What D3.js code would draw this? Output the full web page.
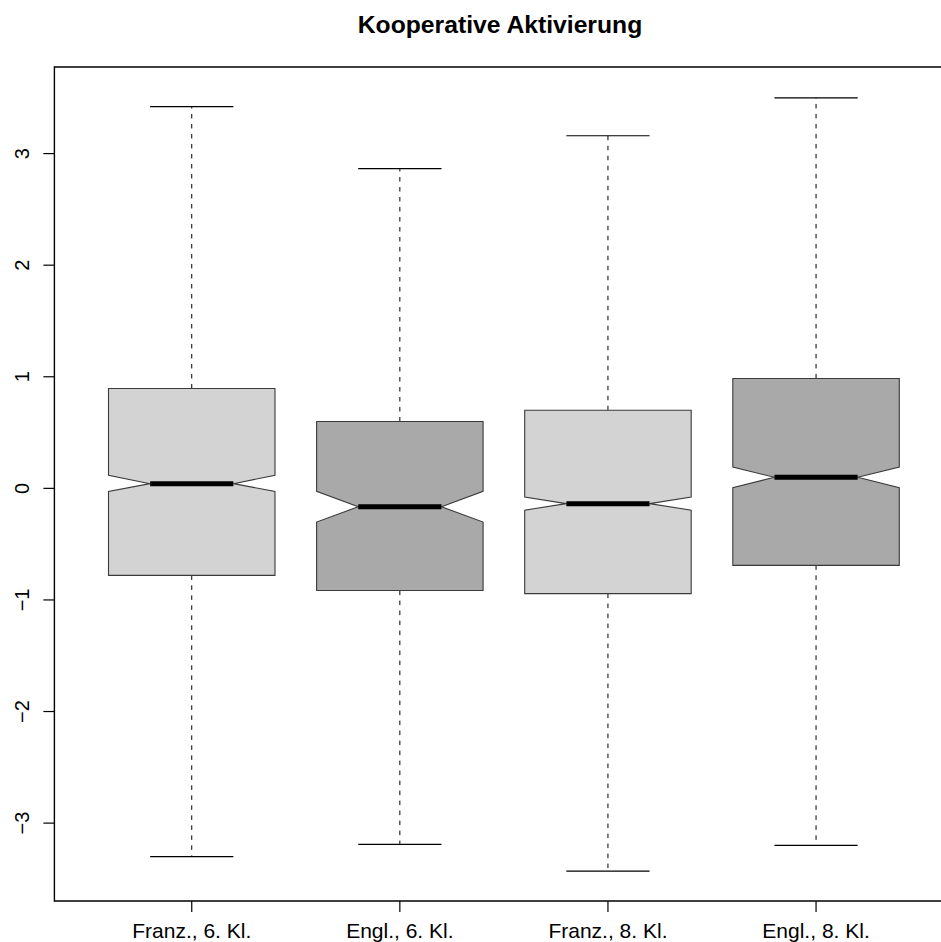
<!DOCTYPE html>
<html><head><meta charset="utf-8">
<script src="https://cdn.jsdelivr.net/npm/d3@7"></script>
<style>body{margin:0;background:#fff;overflow:hidden}svg{display:block}</style>
</head><body>
<script>
const categories = ["Franz., 6. Kl.", "Engl., 6. Kl.", "Franz., 8. Kl.", "Engl., 8. Kl."];
const whiskerLow  = [-3.30, -3.19, -3.43, -3.20];
const q1          = [-0.78, -0.916, -0.943, -0.69];
const medians     = [0.042, -0.165, -0.137, 0.099];
const q3          = [0.895, 0.599, 0.70, 0.985];
const whiskerHigh = [3.42, 2.865, 3.16, 3.50];
const notchLow    = [-0.027, -0.302, -0.195, 0.006];
const notchHigh   = [0.117, -0.026, -0.078, 0.191];
const fills       = ["#D3D3D3", "#A9A9A9", "#D3D3D3", "#A9A9A9"];
const yTicks      = [-3, -2, -1, 0, 1, 2, 3];
const title       = "Kooperative Aktivierung";

const W = 941, H = 942;
const svg = d3.select("body").append("svg").attr("width", W).attr("height", H);

const x = d3.scaleLinear().domain([0.34, 4.66]).range([54.4, 953.4]);
const y = d3.scaleLinear().domain([-3.698, 3.776]).range([901, 67]);
const boxHalf = (x(1.4) - x(1));
const notchHalf = boxHalf / 2;

const data = categories.map((c, i) => ({
  c, i, lo: whiskerLow[i], q1: q1[i], med: medians[i], q3: q3[i], hi: whiskerHigh[i],
  nl: notchLow[i], nh: notchHigh[i], fill: fills[i]
}));

const g = svg.append("g");

g.selectAll(".wu").data(data).join("line")
  .attr("x1", d => x(d.i + 1)).attr("x2", d => x(d.i + 1))
  .attr("y1", d => y(d.q3)).attr("y2", d => y(d.hi))
  .attr("stroke", "#000").attr("stroke-width", 1).attr("stroke-dasharray", "4.5,5.5");
g.selectAll(".wl").data(data).join("line")
  .attr("x1", d => x(d.i + 1)).attr("x2", d => x(d.i + 1))
  .attr("y1", d => y(d.q1)).attr("y2", d => y(d.lo))
  .attr("stroke", "#000").attr("stroke-width", 1).attr("stroke-dasharray", "4.5,5.5");
["hi", "lo"].forEach(k => {
  g.selectAll(".st" + k).data(data).join("line")
    .attr("x1", d => x(d.i + 1) - notchHalf).attr("x2", d => x(d.i + 1) + notchHalf)
    .attr("y1", d => y(d[k])).attr("y2", d => y(d[k]))
    .attr("stroke", "#000").attr("stroke-width", 1.2);
});

g.selectAll(".box").data(data).join("path")
  .attr("d", d => {
    const cx = x(d.i + 1), l = cx - boxHalf, r = cx + boxHalf;
    const nl = cx - notchHalf, nr = cx + notchHalf;
    return `M${l},${y(d.q1)}L${l},${y(d.nl)}L${nl},${y(d.med)}L${l},${y(d.nh)}L${l},${y(d.q3)}` +
           `L${r},${y(d.q3)}L${r},${y(d.nh)}L${nr},${y(d.med)}L${r},${y(d.nl)}L${r},${y(d.q1)}Z`;
  })
  .attr("fill", d => d.fill).attr("stroke", "#3a3a3a").attr("stroke-width", 1.1);

g.selectAll(".med").data(data).join("line")
  .attr("x1", d => x(d.i + 1) - notchHalf).attr("x2", d => x(d.i + 1) + notchHalf)
  .attr("y1", d => y(d.med)).attr("y2", d => y(d.med))
  .attr("stroke", "#000").attr("stroke-width", 5);

const [fx0, fx1] = x.range(), [fy1, fy0] = y.range();
const fxEnd = Math.min(fx1, W);
svg.append("line").attr("x1", fx0).attr("x2", fxEnd).attr("y1", fy0).attr("y2", fy0)
  .attr("stroke", "#000").attr("stroke-width", 1.4);
svg.append("line").attr("x1", fx0).attr("x2", fxEnd).attr("y1", fy1).attr("y2", fy1)
  .attr("stroke", "#000").attr("stroke-width", 1.4);
svg.append("line").attr("x1", fx0).attr("x2", fx0).attr("y1", fy0 - 0.7).attr("y2", fy1 + 0.7)
  .attr("stroke", "#000").attr("stroke-width", 1.4);

const ya = svg.append("g");
ya.selectAll("line").data(yTicks).join("line")
  .attr("x1", fx0 - 11).attr("x2", fx0)
  .attr("y1", d => y(d)).attr("y2", d => y(d))
  .attr("stroke", "#000").attr("stroke-width", 1.2);
ya.selectAll("text").data(yTicks).join("text")
  .attr("transform", d => `translate(29,${y(d)}) rotate(-90)`)
  .attr("text-anchor", "middle")
  .attr("font-family", "Liberation Sans, Arial, sans-serif").attr("font-size", 20)
  .attr("fill", "#000")
  .text(d => d < 0 ? "\u2212" + Math.abs(d) : d);

const xa = svg.append("g");
xa.selectAll("line").data(data).join("line")
  .attr("x1", d => x(d.i + 1)).attr("x2", d => x(d.i + 1))
  .attr("y1", fy1).attr("y2", fy1 + 11)
  .attr("stroke", "#000").attr("stroke-width", 1.2);
xa.selectAll("text").data(data).join("text")
  .attr("x", d => x(d.i + 1)).attr("y", 938)
  .attr("text-anchor", "middle")
  .attr("font-family", "Liberation Sans, Arial, sans-serif").attr("font-size", 21)
  .attr("fill", "#000")
  .text(d => d.c);

svg.append("text")
  .attr("x", 500).attr("y", 33)
  .attr("text-anchor", "middle")
  .attr("font-family", "Liberation Sans, Arial, sans-serif").attr("font-size", 24.7)
  .attr("font-weight", "bold").attr("fill", "#000")
  .text(title);
</script>
</body></html>
